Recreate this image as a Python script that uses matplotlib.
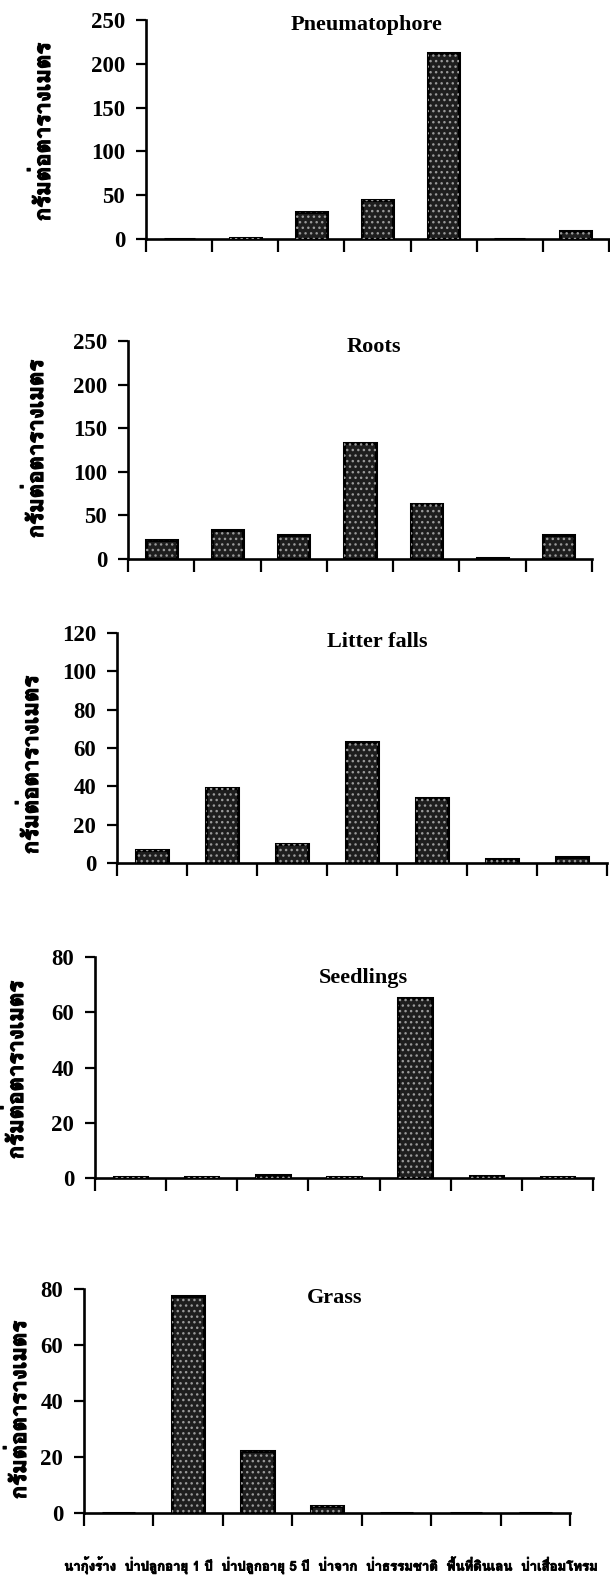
import matplotlib
matplotlib.use("Agg")
import matplotlib.pyplot as plt
from matplotlib import font_manager as fm
from matplotlib import patheffects as pe
from matplotlib.ft2font import FT2Font

# ---- data -------------------------------------------------------------
sites = ["นากุ้งร้าง", "ป่าปลูกอายุ 1 ปี", "ป่าปลูกอายุ 5 ปี", "ป่าจาก",
         "ป่าธรรมชาติ", "พื้นที่ดินเลน", "ป่าเสื่อมโทรม"]
titles = ["Pneumatophore", "Roots", "Litter falls", "Seedlings", "Grass"]
y_label = "กรัมต่อตารางเมตร"

pneumatophore = [0, 1.5, 31, 45, 212, 0, 9]
roots = [22, 33, 28, 133, 63, 1, 28]
litter_falls = [7, 39, 10, 63, 34, 2, 3]
seedlings = [0.3, 0.3, 1, 0.5, 65, 0.8, 0.3]
grass = [0, 77.5, 22, 2.5, 0, 0, 0]

ticks_250 = [0, 50, 100, 150, 200, 250]
ticks_120 = [0, 20, 40, 60, 80, 100, 120]
ticks_80 = [0, 20, 40, 60, 80]

series = [pneumatophore, roots, litter_falls, seedlings, grass]
yticks = [ticks_250, ticks_250, ticks_120, ticks_80, ticks_80]


# ---- fonts --------------------------------------------------------------
def _weight(entry):
    w = entry.weight
    if isinstance(w, str):
        return {"bold": 700, "heavy": 800, "black": 900}.get(w, 400)
    return int(w)


def thai_family():
    found = {}
    for entry in fm.fontManager.ttflist:
        try:
            cmap = FT2Font(entry.fname).get_charmap()
        except Exception:
            continue
        if all(ord(c) in cmap for c in "กรัมต่อตารางเมตรปุ้"):
            found.setdefault(entry.name, []).append(_weight(entry))
    if not found:
        return "DejaVu Sans"
    bold = [name for name, ws in found.items() if max(ws) >= 700]
    return bold[0] if bold else next(iter(found))


THAI = thai_family()
SERIF = "Liberation Serif"
plt.rcParams["hatch.linewidth"] = 1.0

# thicken the Thai glyphs so they read as heavy type
heavy = [pe.withStroke(linewidth=0.9, foreground="black")]
heavy_small = [pe.withStroke(linewidth=0.6, foreground="black")]

# ---- layout (pixels on a 610 x 1596 canvas) -----------------------------
W, H = 610, 1596
# left, right, top (y of highest tick), bottom (y of zero line)
boxes = [(146, 609, 20, 239),
         (128, 592, 341, 559),
         (117, 607, 633, 863),
         (95, 593, 957, 1178),
         (84, 570, 1289, 1513)]
title_xy = [(367, 25), (374, 347), (377, 642), (363, 978), (335, 1298)]
label_xy = [(42, 132), (35, 449), (30, 765), (15, 1070), (18, 1410)]

fig = plt.figure(figsize=(W / 100, H / 100), dpi=100)
fig.patch.set_facecolor("white")

for i, (vals, ticks, title) in enumerate(zip(series, yticks, titles)):
    l, r, t, b = boxes[i]
    ax = fig.add_axes([l / W, 1 - b / H, (r - l) / W, (b - t) / H])
    x = [k + 0.5 for k in range(len(vals))]
    ax.bar(x, vals, width=0.47, color="#1e1e1e", edgecolor="black",
           linewidth=2.2, zorder=2)
    ax.bar(x, vals, width=0.47, color="none", edgecolor="#9a9a9a",
           linewidth=0, hatch="...", zorder=3)
    ax.set_xlim(0, len(vals))
    ax.set_ylim(0, ticks[-1])
    ax.set_yticks(ticks)
    ax.set_xticks(range(len(vals) + 1))
    ax.set_xticklabels([])
    for side in ("top", "right"):
        ax.spines[side].set_visible(False)
    for side in ("left", "bottom"):
        ax.spines[side].set_linewidth(1.9)
        ax.spines[side].set_clip_on(False)
    ax.tick_params(axis="y", direction="out", length=7, width=1.6, pad=8)
    ax.tick_params(axis="x", direction="out", length=9, width=1.6)
    for lab in ax.get_yticklabels():
        lab.set_fontfamily(SERIF)
        lab.set_fontweight("bold")
        lab.set_fontsize(16.5)
    ax.patch.set_alpha(0)

    tx, ty = title_xy[i]
    fig.text(tx / W, 1 - ty / H, title, ha="center", va="center",
             fontsize=16, fontweight="bold", family=SERIF)

    lx, ly = label_xy[i]
    fig.text(lx / W, 1 - ly / H, y_label, rotation=90, ha="center",
             va="center", fontsize=16, fontweight="bold",
             family=[THAI, "DejaVu Sans"], path_effects=heavy)

fig.text(331 / W, 1 - 1565 / H, "  ".join(sites), ha="center", va="center",
         fontsize=9.5, fontweight="bold", family=[THAI, "DejaVu Sans"],
         path_effects=heavy_small)

fig.savefig("out.png", dpi=100, facecolor="white")
